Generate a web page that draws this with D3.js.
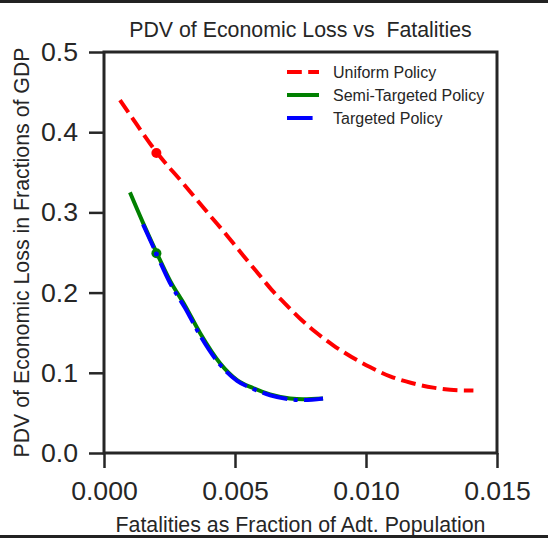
<!DOCTYPE html>
<html>
<head>
<meta charset="utf-8">
<script src="https://cdn.jsdelivr.net/npm/d3@7"></script>
<style>
  body { margin: 0; background: #fff; }
  text { font-family: "Liberation Sans", Arial, sans-serif; fill: #262626; }
</style>
</head>
<body>
<div id="chart"></div>
<script>

var width = 548;
var height = 538;
var margin = {top: 52, right: 51, bottom: 85, left: 104};

var uniformX = [0.00061, 0.00099, 0.00203, 0.00300, 0.00405, 0.00470, 0.00532, 0.00589, 0.00640, 0.00691, 0.00748, 0.00805, 0.00875, 0.00945, 0.01015, 0.01092, 0.01174, 0.01257, 0.01352, 0.01410];
var uniformY = [0.440, 0.422, 0.374, 0.337, 0.296, 0.271, 0.246, 0.2235, 0.2035, 0.1863, 0.1676, 0.1515, 0.1343, 0.1197, 0.1072, 0.0956, 0.0873, 0.0815, 0.0782, 0.0778];

var semiX = [0.00099, 0.00149, 0.00202, 0.00252, 0.00309, 0.00366, 0.00443, 0.00508, 0.00569, 0.00634, 0.00710, 0.00760, 0.00836];
var semiY = [0.325, 0.287, 0.249, 0.215, 0.184, 0.150, 0.112, 0.091, 0.081, 0.073, 0.068, 0.067, 0.068];

var targX = [0.00149, 0.00202, 0.00252, 0.00309, 0.00366, 0.00443, 0.00508, 0.00569, 0.00634, 0.00710, 0.00760, 0.00836];
var targY = [0.285, 0.247, 0.212, 0.181, 0.147, 0.110, 0.090, 0.080, 0.072, 0.067, 0.066, 0.068];

// the marked points
var dotX = [0.002, 0.002, 0.002];
var dotY = [0.374, 0.249, 0.248];

var xTicks = [0, 0.005, 0.010, 0.015];
var yTicks = [0, 0.1, 0.2, 0.3, 0.4, 0.5];

var seriesNames = ["Uniform Policy", "Semi-Targeted Policy", "Targeted Policy"];
var colors = ["#ff0000", "#008000", "#0000ff"];
var dashes = ["14.8,6.4", null, "25.6,6.4,4,6.4"];

var svg = d3.select("#chart")
  .append("svg")
  .attr("width", width)
  .attr("height", height);

svg.append("rect").attr("x", 0).attr("y", 0).attr("width", width).attr("height", height).attr("fill", "#fff");
svg.append("rect").attr("x", 0).attr("y", 0).attr("width", width).attr("height", 3).attr("fill", "#222");
svg.append("rect").attr("x", 0).attr("y", height - 3).attr("width", width).attr("height", 3).attr("fill", "#222");

var w = width - margin.left - margin.right;
var h = height - margin.top - margin.bottom;

var g = svg.append("g")
  .attr("transform", "translate(" + margin.left + "," + margin.top + ")");

var xScale = d3.scaleLinear().domain([0, 0.015]).range([0, w]);
var yScale = d3.scaleLinear().domain([0, 0.5]).range([h, 0]);

var xAxis = g.append("g")
  .attr("transform", "translate(0," + h + ")")
  .call(d3.axisBottom(xScale).tickValues(xTicks).tickFormat(d3.format(".3f")).tickSize(15).tickPadding(13));

var yAxis = g.append("g")
  .call(d3.axisLeft(yScale).tickValues(yTicks).tickFormat(d3.format(".1f")).tickSize(15).tickPadding(11));

[xAxis, yAxis].forEach(function(a) {
  a.select(".domain").remove();
  a.selectAll(".tick line").attr("stroke", "#262626").attr("stroke-width", 2.5);
  a.selectAll(".tick text").attr("font-size", 26.67).attr("fill", "#262626")
    .attr("font-family", "'Liberation Sans', Arial, sans-serif");
});

// frame
g.append("rect")
  .attr("x", 0).attr("y", 0).attr("width", w).attr("height", h)
  .attr("fill", "none").attr("stroke", "#262626").attr("stroke-width", 3);

var line = d3.line()
  .x(function(d) { return xScale(d[0]); })
  .y(function(d) { return yScale(d[1]); })
  .curve(d3.curveMonotoneX);

var series = [d3.zip(uniformX, uniformY), d3.zip(semiX, semiY), d3.zip(targX, targY)];

series.forEach(function(s, i) {
  g.append("path")
    .datum(s)
    .attr("d", line)
    .attr("fill", "none")
    .attr("stroke", colors[i])
    .attr("stroke-width", 4)
    .attr("stroke-dasharray", dashes[i]);
});

g.selectAll(".dot")
  .data(d3.zip(dotX, dotY))
  .enter()
  .append("circle")
  .attr("cx", function(d) { return xScale(d[0]); })
  .attr("cy", function(d) { return yScale(d[1]); })
  .attr("r", function(d, i) { return i == 2 ? 2.5 : 5; })
  .attr("fill", function(d, i) { return colors[i]; });

// legend
var leg = g.append("g").attr("transform", "translate(183,20)");
seriesNames.forEach(function(name, i) {
  leg.append("line")
    .attr("x1", 0).attr("x2", 32)
    .attr("y1", i * 23).attr("y2", i * 23)
    .attr("stroke", colors[i])
    .attr("stroke-width", 4)
    .attr("stroke-dasharray", dashes[i]);
  leg.append("text")
    .attr("x", 46).attr("y", i * 23)
    .attr("dy", "0.35em")
    .attr("font-size", 16)
    .text(name);
});

svg.append("text")
  .attr("x", margin.left + w / 2)
  .attr("y", 37)
  .attr("text-anchor", "middle")
  .attr("font-size", 21.33)
  .style("white-space", "pre")
  .text("PDV of Economic Loss vs  Fatalities");

svg.append("text")
  .attr("x", margin.left + w / 2)
  .attr("y", 532)
  .attr("text-anchor", "middle")
  .attr("font-size", 21.33)
  .text("Fatalities as Fraction of Adt. Population");

svg.append("text")
  .attr("transform", "translate(29," + (margin.top + h / 2) + ") rotate(-90)")
  .attr("text-anchor", "middle")
  .attr("font-size", 21.33)
  .text("PDV of Economic Loss in Fractions of GDP");

</script>
</body>
</html>
